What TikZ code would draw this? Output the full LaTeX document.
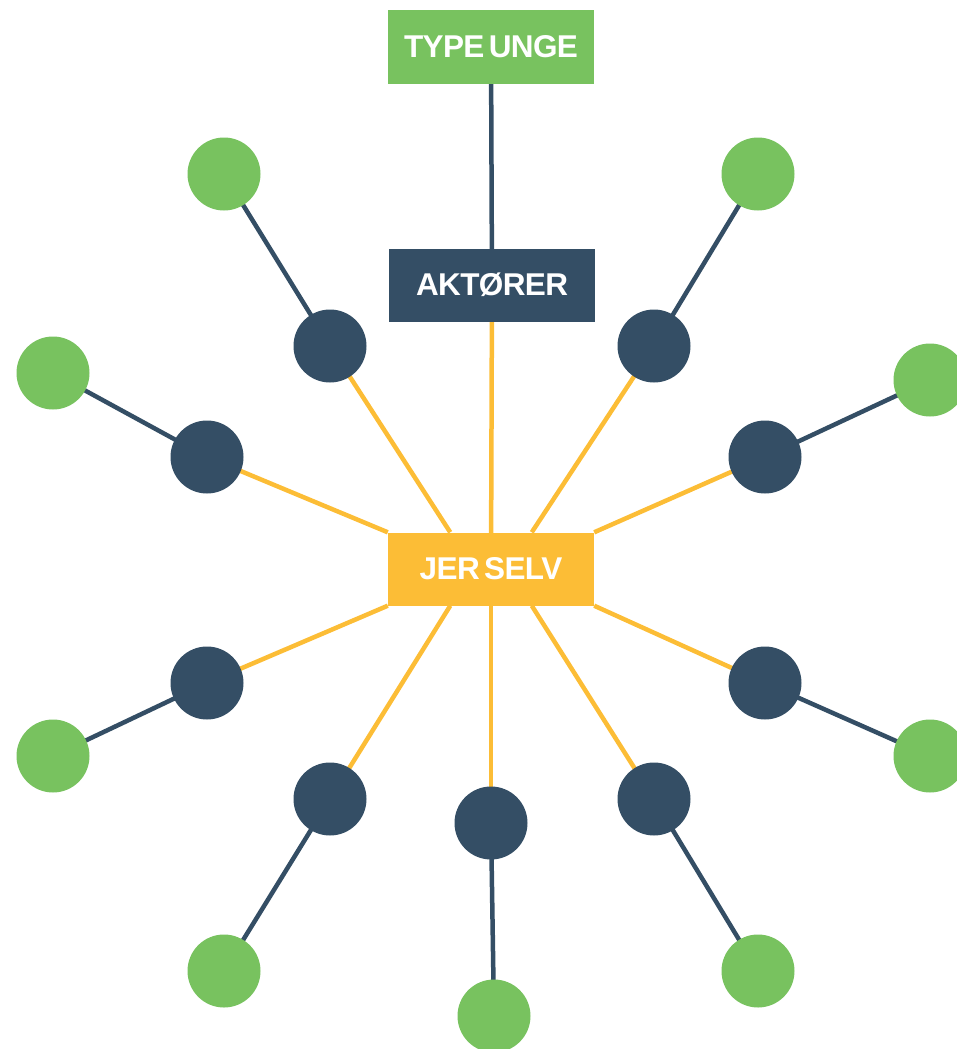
\documentclass[tikz,border=0pt]{standalone}
\usepackage{fontspec}
\setmainfont{Liberation Sans}
\newfontfamily\boxfont{Liberation Sans}[LetterSpace=-2,WordSpace=0.55]
\usetikzlibrary{backgrounds}
\definecolor{grn}{HTML}{78C25F}
\definecolor{navy}{HTML}{344E65}
\definecolor{gold}{HTML}{FCBD36}
\begin{document}
\begin{tikzpicture}[x=1pt,y=-1pt,
    box/.style={minimum width=206pt,minimum height=73pt,inner sep=0pt,text=white,
      font=\boxfont\fontsize{31.5}{31.5}\selectfont\bfseries},
    dot/.style={circle,minimum size=73pt,inner sep=0pt},
    yline/.style={gold,line width=4.5pt},
    nline/.style={navy,line width=4.5pt}]
  \useasboundingbox (0,0) rectangle (957,1049);

  \node[box,fill=grn] (type) at (491,47) {TYPE UNGE};
  \node[box,fill=navy] (akt) at (492,285) {AKTØRER};
  \node[box,fill=gold] (jer) at (491,569) {JER SELV};

  % dark dots round JER SELV, green dots outside
  \foreach \i/\dx/\dy/\gx/\gy/\a in {1/330/346/224/174/138, 2/654/346/758/174/42,
      3/207/457/53/373/north west, 4/765/457/930/380/north east,
      5/207/683/53/756/south west, 6/765/683/930/756/south east,
      7/330/799/224/971/222, 8/654/799/758/971/318, 9/491/823/494/1016/south}
  {
    \node[dot,fill=navy] (d\i) at (\dx,\dy) {};
    \node[dot,fill=grn] (g\i) at (\gx,\gy) {};
    \begin{pgfonlayer}{background}
      \draw[yline] (jer.\a) -- (d\i.center);
      \draw[nline] (d\i.center) -- (g\i.center);
    \end{pgfonlayer}
  }

  \begin{pgfonlayer}{background}
    \draw[nline] (type) -- (akt.center);
    \draw[yline] (akt.center) -- (jer.center);
  \end{pgfonlayer}
\end{tikzpicture}
\end{document}
